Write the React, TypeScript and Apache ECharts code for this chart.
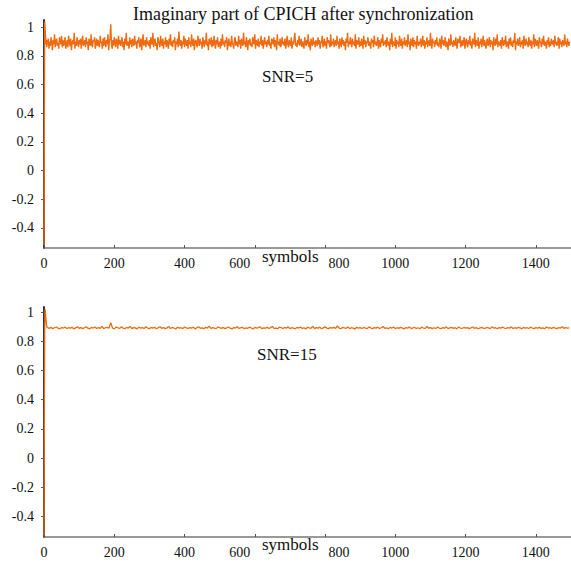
import React, { useEffect, useRef } from "react";
import * as echarts from "echarts";

const TITLE = "Imaginary part of CPICH after synchronization";
const X_LABEL = "symbols";
const SNR_TOP = "SNR=5";
const SNR_BOTTOM = "SNR=15";
const Y_TICKS = [-0.4, -0.2, 0, 0.2, 0.4, 0.6, 0.8, 1];
const X_TICKS = [0, 200, 400, 600, 800, 1000, 1200, 1400];

// initial transient (symbols 0..9)
const transientX = [0, 1, 2, 3, 4, 5, 6, 7, 8, 9];
const transientTop = [-0.52, 0.35, 1.04, 1.0, 0.95, 0.92, 0.88, 0.9, 0.86, 0.91];
const transientBottom = [-0.53, 0.2, 0.85, 1.02, 1.0, 0.97, 0.94, 0.92, 0.9, 0.895];

// SNR=5 steady state, sampled every 2 symbols from 10 to 1496
const TOP_START = 10;
const TOP_STEP = 2;
const snr5 = [
  .88,.92,.85,.90,.87,.93,.89,.84,.91,.88,.95,.86,.90,.92,.87,.89,.85,.93,.90,.88,.94,.86,.91,.87,
  .89,.93,.85,.88,.91,.86,.94,.90,.87,.92,.84,.89,.91,.88,.96,.85,.90,.87,.93,.89,.86,.91,.88,.92,
  .85,.90,.94,.87,.89,.91,.86,.93,.88,.90,.84,.92,.89,.87,.95,.88,.86,.91,.90,.93,.85,.89,.92,.87,
  .91,.88,.86,.94,.89,.90,.85,.92,.87,.93,.89,.86,.91,.88,.95,.84,.90,.92,1.02,.88,.85,.91,.87,.93,
  .89,.86,.92,.90,.85,.94,.88,.91,.87,.89,.93,.86,.90,.84,.92,.88,.96,.87,.90,.89,.85,.93,.88,.91,
  .86,.92,.89,.87,.94,.88,.90,.85,.91,.89,.93,.86,.88,.92,.84,.90,.95,.87,.89,.91,.86,.93,.88,.90,
  .87,.91,.85,.93,.89,.88,.96,.86,.90,.92,.87,.89,.84,.93,.91,.88,.86,.94,.89,.87,.92,.85,.90,.88,
  .93,.86,.91,.89,.85,.92,.88,.95,.87,.90,.86,.91,.89,.93,.84,.90,.88,.92,.86,.97,.89,.87,.91,.85,
  .90,.88,.94,.86,.92,.89,.87,.91,.85,.93,.88,.90,.86,.95,.89,.87,.92,.84,.90,.91,.88,.86,.94,.89,
  .87,.92,.88,.90,.85,.93,.89,.86,.91,.88,.96,.87,.90,.84,.92,.89,.88,.93,.86,.91,.87,.94,.89,.85,
  .91,.88,.93,.86,.90,.89,.85,.92,.87,.95,.88,.90,.86,.91,.89,.93,.84,.88,.92,.87,.90,.86,.94,.89,
  .88,.85,.91,.93,.87,.90,.89,.86,.94,.88,.91,.85,.92,.89,.87,.96,.88,.90,.86,.93,.89,.84,.91,.88,
  .92,.87,.89,.86,.93,.90,.88,.95,.85,.91,.89,.87,.92,.86,.90,.88,.94,.87,.91,.85,.89,.93,.88,.90,
  .86,.91,.88,.94,.87,.89,.85,.92,.90,.88,.93,.86,.91,.89,.84,.95,.88,.90,.87,.92,.86,.89,.93,.88,
  .90,.87,.92,.85,.89,.94,.88,.86,.91,.89,.87,.93,.85,.90,.88,.92,.96,.87,.89,.86,.91,.88,.94,.87,
  .89,.92,.86,.90,.88,.85,.93,.89,.87,.91,.88,.95,.86,.90,.84,.92,.89,.87,.93,.88,.90,.86,.91,.89,
  .87,.93,.88,.91,.85,.90,.89,.94,.86,.88,.92,.87,.90,.85,.93,.89,.91,.88,.86,.95,.87,.90,.88,.92,
  .86,.89,.91,.87,.94,.88,.90,.85,.92,.89,.86,.93,.88,.91,.87,.90,.84,.92,.89,.96,.86,.90,.88,.93,
  .89,.86,.92,.88,.90,.87,.95,.85,.91,.89,.88,.93,.86,.90,.87,.92,.89,.85,.94,.88,.91,.86,.90,.89,
  .93,.87,.90,.88,.85,.92,.89,.91,.86,.94,.88,.90,.87,.89,.93,.85,.91,.88,.86,.92,.89,.95,.87,.90,
  .88,.91,.86,.93,.89,.87,.90,.84,.92,.88,.96,.86,.90,.89,.87,.93,.85,.91,.88,.90,.86,.94,.89,.87,
  .92,.85,.90,.88,.93,.87,.89,.91,.86,.95,.88,.90,.84,.92,.89,.87,.93,.86,.91,.88,.90,.85,.94,.89,
  .87,.90,.88,.92,.86,.89,.94,.87,.91,.85,.90,.88,.93,.86,.89,.91,.87,.96,.88,.85,.92,.89,.90,.86,
  .91,.88,.93,.87,.89,.86,.92,.90,.85,.94,.88,.91,.87,.89,.93,.86,.90,.88,.84,.92,.89,.87,.95,.88,
  .90,.86,.91,.89,.87,.93,.88,.85,.92,.90,.89,.94,.86,.88,.91,.87,.90,.93,.85,.89,.92,.88,.86,.91,
  .88,.94,.87,.90,.85,.92,.89,.88,.96,.86,.91,.89,.87,.93,.85,.90,.88,.92,.86,.89,.94,.87,.91,.88,
  .85,.90,.92,.87,.89,.93,.86,.91,.88,.90,.84,.93,.89,.87,.92,.88,.95,.86,.90,.89,.87,.91,.85,.93,
  .89,.87,.91,.88,.94,.86,.90,.89,.85,.92,.88,.93,.87,.90,.86,.91,.89,.96,.84,.90,.88,.92,.87,.89,
  .93,.86,.90,.88,.91,.85,.94,.89,.87,.92,.88,.90,.86,.93,.89,.87,.91,.85,.90,.88,.95,.86,.92,.89,
  .87,.91,.88,.85,.93,.90,.89,.86,.92,.88,.94,.87,.90,.89,.85,.91,.88,.93,.86,.90,.87,.92,.89,.88,
  .91,.86,.94,.88,.90,.87,.89,.93,.85,.92,.88,.90,.86,.91,.89,.87,.95,.88,.90,.86,.92,.89,.87,.90,
];

// SNR=15 steady state, sampled every 5 symbols from 10 to 1495
const BOTTOM_START = 10;
const BOTTOM_STEP = 5;
const snr15 = [
  0.892,0.889,0.895,0.887,0.893,0.898,0.890,0.886,0.894,0.891,0.897,0.888,0.893,0.890,0.896,0.885,0.892,0.899,0.889,0.894,
  0.887,0.893,0.900,0.890,0.886,0.895,0.891,0.898,0.888,0.894,0.889,0.902,0.887,0.893,0.896,0.890,0.928,0.891,0.885,0.897,
  0.893,0.888,0.899,0.891,0.886,0.895,0.890,0.903,0.887,0.894,0.892,0.885,0.897,0.890,0.894,0.888,0.900,0.891,0.887,0.895,
  0.890,0.896,0.886,0.893,0.899,0.889,0.894,0.887,0.892,0.901,0.888,0.895,0.891,0.884,0.897,0.890,0.893,0.887,0.898,0.892,
  0.888,0.894,0.890,0.897,0.885,0.893,0.899,0.889,0.892,0.886,0.896,0.891,0.904,0.888,0.894,0.890,0.887,0.899,0.893,0.889,
  0.895,0.887,0.892,0.898,0.890,0.885,0.894,0.891,0.900,0.888,0.893,0.896,0.886,0.892,0.889,0.897,0.891,0.884,0.895,0.890,
  0.893,0.899,0.887,0.892,0.890,0.896,0.888,0.894,0.902,0.889,0.891,0.886,0.897,0.893,0.888,0.895,0.890,0.899,0.887,0.893,
  0.890,0.886,0.895,0.891,0.898,0.888,0.893,0.885,0.896,0.892,0.889,0.903,0.887,0.894,0.890,0.897,0.886,0.892,0.899,0.891,
  0.887,0.894,0.890,0.896,0.888,0.905,0.891,0.886,0.895,0.892,0.889,0.898,0.887,0.893,0.890,0.884,0.896,0.891,0.894,0.888,
  0.895,0.890,0.887,0.899,0.892,0.886,0.894,0.890,0.897,0.888,0.893,0.901,0.889,0.892,0.886,0.895,0.891,0.898,0.887,0.893,
  0.889,0.896,0.891,0.885,0.894,0.890,0.899,0.887,0.892,0.895,0.888,0.893,0.886,0.897,0.891,0.889,0.902,0.890,0.894,0.887,
  0.893,0.888,0.897,0.891,0.886,0.894,0.890,0.899,0.887,0.892,0.896,0.889,0.893,0.885,0.898,0.891,0.888,0.895,0.890,0.894,
  0.887,0.892,0.898,0.889,0.894,0.886,0.891,0.896,0.890,0.888,0.895,0.892,0.887,0.899,0.891,0.893,0.886,0.894,0.890,0.897,
  0.891,0.888,0.894,0.890,0.899,0.887,0.893,0.889,0.896,0.892,0.886,0.895,0.890,0.893,0.888,0.897,0.891,0.887,0.894,0.890,
  0.895,0.889,0.892,0.886,0.898,0.891,0.893,0.888,0.896,0.890,0.887,0.894,0.891,0.899,0.889,0.893,0.890,0.892,
];

function buildSeries(transient: number[], noise: number[], start: number, step: number): number[][] {
  const out: number[][] = transientX.map((x, i) => [x, transient[i]]);
  noise.forEach((v, i) => out.push([start + i * step, v]));
  return out;
}

const FONT = "Liberation Serif";
const NUM_FONT = "Liberation Serif, DejaVu Serif, serif";
const LINE_COLOR = "#f06a0f";

export default function App() {
  const ref = useRef<HTMLDivElement>(null);
  useEffect(() => {
    document.body.style.margin = "0";
    if (!ref.current) return;
    const chart = echarts.init(ref.current, undefined, { renderer: "svg" });
    const labelText = { fontFamily: NUM_FONT, fontSize: 14, color: "#111" };
    const yAxisBase = (min: number, max: number, gridIndex: number) => ({
      type: "value" as const,
      gridIndex,
      min,
      max,
      axisLine: { show: true, lineStyle: { color: "#333", width: 2 } },
      axisTick: { show: true, customValues: Y_TICKS, length: 3, lineStyle: { color: "#555" } },
      axisLabel: {
        customValues: Y_TICKS,
        ...labelText,
        margin: 10,
        formatter: (v: number) => String(Math.round(v * 10) / 10),
      },
      splitLine: { show: false },
    });
    const xAxisBase = (gridIndex: number) => ({
      type: "value" as const,
      gridIndex,
      min: 0,
      max: 1500,
      axisLine: { show: true, onZero: false, lineStyle: { color: "#777", width: 1.5 } },
      axisTick: { show: true, customValues: X_TICKS, inside: true, length: 3, lineStyle: { color: "#555" } },
      axisLabel: {
        customValues: X_TICKS,
        ...labelText,
        margin: 8,
        formatter: (v: number) => {
          const r = Math.round(v);
          if (r === 600) return `{l|${r}}`;
          if (r === 800) return `{r|${r}}`;
          return `${r}`;
        },
        rich: {
          l: { ...labelText, padding: [0, 30, 0, 0] },
          r: { ...labelText, padding: [0, 0, 0, 28] },
        },
      },
      splitLine: { show: false },
    });
    chart.setOption({
      animation: false,
      backgroundColor: "#fff",
      textStyle: { fontFamily: FONT },
      grid: [
        { left: 44, top: 20, width: 529, height: 228 },
        { left: 44, top: 307, width: 529, height: 230 },
      ],
      xAxis: [xAxisBase(0), xAxisBase(1)],
      yAxis: [yAxisBase(-0.54, 1.05, 0), yAxisBase(-0.54, 1.035, 1)],
      series: [
        {
          type: "line",
          xAxisIndex: 0,
          yAxisIndex: 0,
          data: buildSeries(transientTop, snr5, TOP_START, TOP_STEP),
          showSymbol: false,
          lineStyle: { color: LINE_COLOR, width: 1.4 },
          z: 3,
        },
        {
          type: "line",
          xAxisIndex: 1,
          yAxisIndex: 1,
          data: buildSeries(transientBottom, snr15, BOTTOM_START, BOTTOM_STEP),
          showSymbol: false,
          lineStyle: { color: LINE_COLOR, width: 1.3 },
          z: 3,
        },
      ],
      graphic: [
        { type: "text", x: 133, y: 5, style: { text: TITLE, font: `18px ${FONT}`, fill: "#111" } },
        { type: "text", x: 262, y: 68, style: { text: SNR_TOP, font: `17px ${FONT}`, fill: "#111" } },
        { type: "text", x: 257, y: 346, style: { text: SNR_BOTTOM, font: `17px ${FONT}`, fill: "#111" } },
        { type: "text", x: 262, y: 248, style: { text: X_LABEL, font: `17px ${FONT}`, fill: "#111" } },
        { type: "text", x: 262, y: 536, style: { text: X_LABEL, font: `17px ${FONT}`, fill: "#111" } },
      ],
    });
    return () => chart.dispose();
  }, []);
  return <div ref={ref} style={{ width: 571, height: 562 }} />;
}
